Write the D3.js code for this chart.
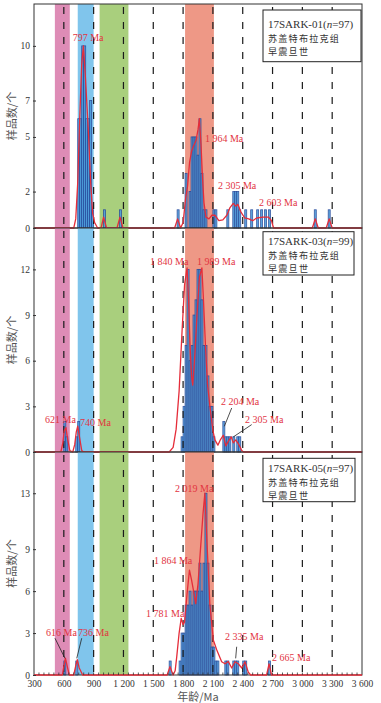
<!DOCTYPE html>
<meta charset="utf-8">
<style>
    html, body { margin: 0; background: #fff; }
    .frame { fill: none; stroke: #333; stroke-width: 1px; }
    .bar { fill: #4c9fdc; stroke: #24479a; stroke-width: 0.8px; opacity: 0.9; }
    .kde { fill: none; stroke: #e52d3a; stroke-width: 1.3px; stroke-linejoin: round; }
    .dash { stroke: #1a1a1a; stroke-width: 1.2px; stroke-dasharray: 7 8; }
    .tlab { font-family: "Liberation Serif", serif; font-size: 9.5px; fill: #333; }
    .peak { font-family: "Liberation Serif", serif; font-size: 10px; fill: #e2343f; }
    .pointer { stroke: #222; stroke-width: 0.8px; }
    .legend rect { fill: #fff; stroke: #222; stroke-width: 1px; }
    .legend text { font-family: "Liberation Serif", serif; font-size: 11px; fill: #333; }
    .legend .cjk { font-family: "Noto Sans CJK SC", sans-serif; font-size: 9.1px; letter-spacing: 1.2px; }
    .ytitle, .xtitle { font-family: "Noto Sans CJK SC", sans-serif; font-size: 11px; fill: #555; }
</style>
<body>
<script src="https://cdn.jsdelivr.net/npm/d3@7"></script>
<script>

// x axis
var xTicks = [300, 600, 900, 1200, 1500, 1800, 2100, 2400, 2700, 3000, 3300, 3600];
var xTickLabels = ["300", "600", "900", "1 200", "1 500", "1 800", "2 100", "2 400", "2 700", "3 000", "3 300", "3 600"];
var dashAges = [600, 900, 1200, 1500, 1800, 2100, 2400, 2700, 3000, 3300];

// shaded age bands (Ma)
var bandStart = [510, 740, 960, 1820];
var bandEnd = [660, 900, 1250, 2110];
var bandColor = ["#de8cb6", "#80c5ec", "#a9cf7d", "#ee9886"];

var binWidth = 20;

// 17SARK-01
var bins01 = [740, 760, 780, 800, 820, 840, 860, 880, 1000, 1160, 1740, 1820, 1860, 1880, 1900, 1920, 1940, 1960, 1980, 2000, 2020,
    2100, 2120, 2240, 2300, 2320, 2340, 2360, 2420, 2480, 2540, 2580, 2620, 2660, 3120, 3260];
var counts01 = [6, 6, 10, 10, 6, 6, 7, 1, 1, 1, 1, 3, 2, 5, 5, 5, 4, 6, 3, 1, 1,
    1, 1, 1, 2, 2, 2, 1, 1, 1, 1, 1, 1, 1, 1, 1];
var curveAge01 = [300, 700, 720, 740, 760, 780, 797, 815, 830, 850, 870, 890, 910, 940, 975, 1000, 1030, 1135, 1165, 1195,
    1715, 1745, 1775, 1800, 1825, 1845, 1865, 1885, 1905, 1930, 1950, 1964, 1980, 1995, 2010, 2030, 2060, 2090, 2120, 2160,
    2200, 2240, 2270, 2305, 2330, 2351, 2380, 2420, 2460, 2500, 2540, 2603, 2660, 2690, 2710, 3100, 3130, 3160, 3240, 3270, 3300, 3600];
var curveVal01 = [0, 0, 0.5, 2.5, 6, 9, 10, 8.5, 7, 5, 2.5, 0.8, 0.3, 0, 0, 0.6, 0, 0, 0.6, 0,
    0, 0.5, 0, 0.3, 1.6, 2.3, 3.6, 4.2, 4.5, 4.8, 5.4, 6, 4.6, 2.8, 1.4, 0.6, 0.5, 0.7, 0.7, 0.4,
    0.45, 0.7, 1.1, 1.35, 1.2, 1.3, 0.9, 0.55, 0.5, 0.4, 0.55, 0.6, 0.6, 0.4, 0, 0, 0.5, 0, 0, 0.5, 0, 0];

// 17SARK-03
var bins02 = [600, 620, 720, 740, 1780, 1800, 1820, 1840, 1860, 1880, 1900, 1920, 1940, 1960, 1980, 2000, 2020, 2040, 2060, 2080, 2100,
    2200, 2220, 2240, 2260, 2300, 2340, 2360];
var counts02 = [2, 1, 1, 2, 1, 3, 7, 12, 6, 7, 9, 10, 12, 12, 10, 7, 7, 5, 3, 3, 1,
    2, 1, 1, 1, 1, 1, 1];
var curveAge02 = [300, 570, 590, 605, 621, 640, 660, 690, 710, 725, 740, 760, 780, 800,
    1660, 1700, 1730, 1760, 1790, 1815, 1840, 1855, 1870, 1885, 1897, 1915, 1940, 1965, 1989, 2005, 2025, 2045, 2070, 2100,
    2120, 2150, 2175, 2204, 2230, 2255, 2284, 2305, 2330, 2360, 2390, 2410, 3600];
var curveVal02 = [0, 0, 0.6, 1.4, 1.6, 0.8, 0.1, 0, 0.5, 1.3, 1.7, 0.9, 0.1, 0,
    0, 0.3, 1.5, 4, 8, 11, 12.1, 10, 7, 5, 4.4, 6, 9, 11.5, 12.1, 10, 7, 4.5, 3, 1.4,
    0.8, 0.45, 0.8, 1.1, 0.4, 0.7, 1.0, 0.6, 0.8, 0.5, 0.1, 0, 0];

// 17SARK-05
var bins03 = [600, 720, 1660, 1760, 1780, 1800, 1820, 1840, 1860, 1880, 1900, 1920, 1940, 1960, 1980, 2000, 2020, 2040, 2060, 2080,
    2100, 2120, 2140, 2220, 2240, 2300, 2320, 2340, 2400, 2420, 2660];
var counts03 = [1, 1, 1, 1, 3, 3, 5, 5, 6, 5, 6, 6, 6, 8, 6, 8, 13, 8, 5, 2,
    2, 1, 1, 1, 1, 1, 1, 1, 1, 1, 1];
var curveAge03 = [300, 585, 600, 616, 635, 655, 700, 718, 736, 755, 790, 1640, 1668, 1700, 1720, 1736, 1760, 1781, 1800, 1815,
    1840, 1864, 1885, 1903, 1927, 1950, 1975, 2000, 2019, 2040, 2070, 2104, 2138, 2188, 2222, 2255, 2289, 2322, 2356, 2390,
    2423, 2456, 2480, 2640, 2665, 2690, 3600];
var curveVal03 = [0, 0, 0.6, 1.2, 0.6, 0, 0, 0.6, 1.1, 0.5, 0, 0, 0.6, 0, 0.3, 1.3, 3, 4.05, 3.6, 3.8,
    5.8, 7.5, 6.8, 6.1, 5.1, 6.5, 9, 11.5, 13, 9.5, 5, 2.5, 1.8, 0.95, 0.8, 0.97, 0.5, 0.95, 0.8, 0.5,
    0.95, 0.2, 0, 0, 0.8, 0, 0];

var yTicks01 = [0, 2, 5, 7, 10];
var yTicks02 = [0, 3, 6, 9, 12];
var yTicks03 = [0, 3, 6, 9, 13];

// peak labels: text, age, count (text anchor position), optional pointer [age1, v1, age2, v2]
var peaks01 = [["797 Ma", 689, 10.27], ["1 964 Ma", 2020, 4.7], ["2 305 Ma", 2151, 2.14], ["2 603 Ma", 2564, 1.2]];
var peaks02 = [["1 840 Ma", 1467, 12.28], ["1 989 Ma", 1940, 12.28], ["621 Ma", 411, 1.89], ["740 Ma", 763, 1.69],
    ["2 204 Ma", 2181, 3.07, [2289, 2.89, 2215, 1.69]], ["2 305 Ma", 2423, 1.89, [2490, 1.8, 2305, 0.99]]];
var peaks03 = [["2 019 Ma", 1719, 13.09], ["1 864 Ma", 1507, 7.94], ["1 781 Ma", 1427, 4.15],
    ["616 Ma", 421, 2.79, [511, 2.63, 612, 1.19]], ["736 Ma", 743, 2.79, [780, 2.63, 730, 1.19]],
    ["2 335 Ma", 2222, 2.5, [2339, 2.02, 2329, 1.19]], ["2 665 Ma", 2695, 1.0]];

var width = 381, height = 703;
var left = 34, right = 362;

var panels = [
    { name: "17SARK-01", n: 97, top: 4, bottom: 228, ymax: 12.3, ticks: yTicks01, bins: bins01, counts: counts01, ca: curveAge01, cv: curveVal01, peaks: peaks01,
      box: [6, 51.7, 361], lines: [24, 37.6] },
    { name: "17SARK-03", n: 99, top: 228, bottom: 452, ymax: 14.72, ticks: yTicks02, bins: bins02, counts: counts02, ca: curveAge02, cv: curveVal02, peaks: peaks02,
      box: [3.7, 43.3, 354], lines: [17.4, 31] },
    { name: "17SARK-05", n: 97, top: 452, bottom: 675, ymax: 15.95, ticks: yTicks03, bins: bins03, counts: counts03, ca: curveAge03, cv: curveVal03, peaks: peaks03,
      box: [6.3, 43.4, 355], lines: [20, 33.7] }
];

var x = d3.scaleLinear().domain([300, 3600]).range([left, right]);

var svg = d3.select("body").append("svg")
    .attr("width", width)
    .attr("height", height);

panels.forEach(function (p) {
    var y = d3.scaleLinear().domain([0, p.ymax]).range([p.bottom, p.top]);
    var g = svg.append("g");

    // bands
    g.selectAll(".band")
        .data(bandStart)
        .enter().append("rect")
        .attr("x", function (d) { return x(d); })
        .attr("width", function (d, i) { return x(bandEnd[i]) - x(d); })
        .attr("y", p.top)
        .attr("height", p.bottom - p.top)
        .style("fill", function (d, i) { return bandColor[i]; });

    // histogram
    g.selectAll(".bar")
        .data(p.bins)
        .enter().append("rect")
        .attr("class", "bar")
        .attr("x", function (d) { return x(d); })
        .attr("width", function (d) { return x(d + binWidth) - x(d); })
        .attr("y", function (d, i) { return y(p.counts[i]); })
        .attr("height", function (d, i) { return y(0) - y(p.counts[i]); });

    // dashed reference lines
    g.selectAll(".dash")
        .data(dashAges)
        .enter().append("line")
        .attr("class", "dash")
        .attr("x1", function (d) { return x(d); })
        .attr("x2", function (d) { return x(d); })
        .attr("y1", p.top + 3)
        .attr("y2", p.bottom);

    // frame
    g.append("rect")
        .attr("class", "frame")
        .attr("x", left)
        .attr("y", p.top)
        .attr("width", right - left)
        .attr("height", p.bottom - p.top);

    // density curve
    var line = d3.line()
        .x(function (d) { return x(d[0]); })
        .y(function (d) { return y(d[1]); });
    g.append("path")
        .datum(p.ca.map(function (a, i) { return [a, p.cv[i]]; }))
        .attr("class", "kde")
        .attr("d", line);

    // y axis
    var yAxis = d3.axisLeft(y).tickValues(p.ticks).tickSize(3).tickPadding(3);
    var ya = g.append("g")
        .attr("transform", "translate(" + (left + 2) + ",0)")
        .call(yAxis);
    ya.select(".domain").remove();
    ya.selectAll("line").style("stroke", "#333");
    ya.selectAll("text").attr("class", "tlab");

    g.append("text")
        .attr("class", "ytitle")
        .attr("transform", "translate(16," + ((p.top + p.bottom) / 2) + ") rotate(-90)")
        .attr("text-anchor", "middle")
        .text("样品数/个");

    // peak labels
    p.peaks.forEach(function (k) {
        if (k[3]) {
            g.append("line")
                .attr("class", "pointer")
                .attr("x1", x(k[3][0])).attr("y1", y(k[3][1]))
                .attr("x2", x(k[3][2])).attr("y2", y(k[3][3]));
        }
        g.append("text")
            .attr("class", "peak")
            .attr("x", x(k[1]))
            .attr("y", y(k[2]))
            .text(k[0]);
    });

    // legend box
    var lg = g.append("g").attr("class", "legend");
    lg.append("rect")
        .attr("x", 263)
        .attr("y", p.top + p.box[0])
        .attr("width", p.box[2] - 263)
        .attr("height", p.box[1]);
    var t1 = lg.append("text").attr("x", 268).attr("y", p.top + p.lines[0]);
    t1.append("tspan").text(p.name + "(");
    t1.append("tspan").style("font-style", "italic").text("n");
    t1.append("tspan").text("=" + p.n + ")");
    lg.append("text").attr("class", "cjk").attr("x", 268).attr("y", p.top + p.lines[1]).text("苏盖特布拉克组");
    lg.append("text").attr("class", "cjk").attr("x", 268).attr("y", p.top + p.lines[1] + 13.4).text("早震旦世");
});

// bottom x axis
var bottom = 675;
var minor = d3.range(350, 3600, 50);
svg.selectAll(".minor")
    .data(minor)
    .enter().append("line")
    .attr("x1", function (d) { return x(d); })
    .attr("x2", function (d) { return x(d); })
    .attr("y1", bottom)
    .attr("y2", bottom - 2.5)
    .style("stroke", "#333")
    .style("stroke-width", 0.8);

var xAxis = d3.axisBottom(x).tickValues(xTicks)
    .tickFormat(function (d, i) { return xTickLabels[i]; })
    .tickSize(0).tickPadding(5);
var xa = svg.append("g")
    .attr("transform", "translate(0," + bottom + ")")
    .call(xAxis);
xa.select(".domain").remove();
xa.selectAll("text").attr("class", "tlab");

svg.append("text")
    .attr("class", "xtitle")
    .attr("x", 198)
    .attr("y", 701)
    .attr("text-anchor", "middle")
    .text("年龄/Ma");

</script>
</body>
